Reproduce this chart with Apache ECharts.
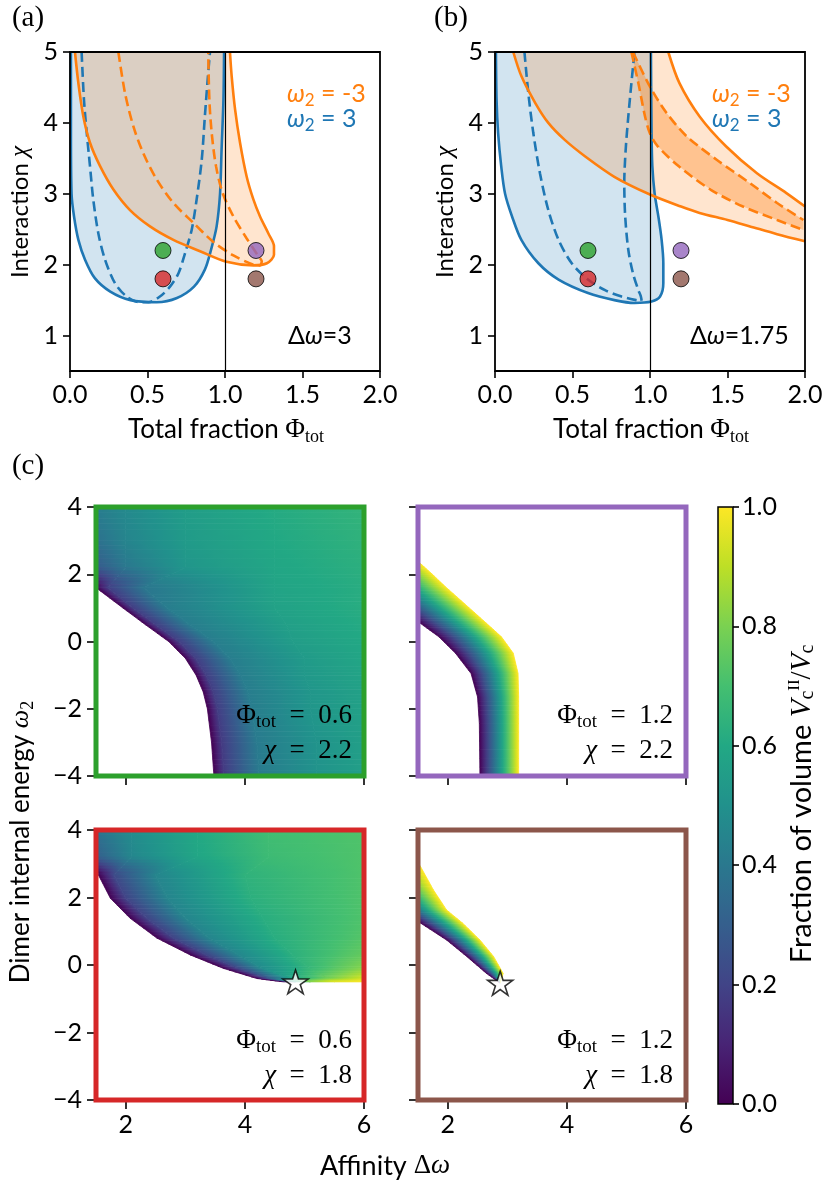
<!DOCTYPE html>
<html><head><meta charset="utf-8">
<script src="https://cdn.jsdelivr.net/npm/echarts@6/dist/echarts.min.js"></script>
<style>html,body{margin:0;padding:0;background:#fff}#c{width:830px;height:1192px}</style>
</head><body><div id="c"></div>
<script>
// ---------------- data: panel (a), Δω = 3 ----------------
const blueSolidA = [[0.006,5],[0.006,3.86],[0.01,3.0],[0.026,2.68],[0.054,2.35],[0.097,2.07],[0.16,1.81],[0.26,1.62],[0.39,1.50],[0.56,1.47],[0.69,1.53],[0.80,1.69],[0.87,1.93],[0.91,2.21],[0.946,2.54],[0.968,3.0],[0.978,3.62],[0.99,4.33],[0.994,5]];
const blueDashA = [[0.075,5],[0.09,4.33],[0.108,3.86],[0.129,3.39],[0.15,2.92],[0.183,2.44],[0.226,2.07],[0.29,1.74],[0.366,1.55],[0.45,1.47],[0.505,1.47],[0.58,1.55],[0.645,1.69],[0.70,1.88],[0.742,2.16],[0.785,2.49],[0.817,2.92],[0.85,3.48],[0.87,4.09],[0.89,4.66],[0.903,5]];
const orangeSolidA = [[0.032,5],[0.054,4.56],[0.086,4.09],[0.129,3.72],[0.194,3.39],[0.28,3.06],[0.387,2.77],[0.516,2.54],[0.667,2.35],[0.839,2.19],[1.01,2.04],[1.183,1.99],[1.27,2.02],[1.316,2.14],[1.316,2.26],[1.28,2.44],[1.226,2.68],[1.183,2.92],[1.14,3.24],[1.097,3.72],[1.065,4.19],[1.043,4.66],[1.032,5]];
const orangeDashA = [[0.312,5],[0.355,4.42],[0.409,3.95],[0.473,3.57],[0.56,3.2],[0.667,2.87],[0.796,2.59],[0.925,2.32],[1.054,2.13],[1.183,2.0],[1.226,1.99],[1.237,2.05],[1.215,2.12],[1.14,2.37],[1.054,2.68],[0.985,3.01],[0.942,3.39],[0.914,3.86],[0.899,4.33],[0.892,5]];
// ---------------- data: panel (b), Δω = 1.75 ----------------
const blueSolidB = [[0.006,5],[0.01,4.33],[0.02,3.86],[0.04,3.39],[0.065,3.0],[0.11,2.68],[0.17,2.35],[0.28,2.02],[0.41,1.79],[0.60,1.6],[0.77,1.5],[0.90,1.46],[1.01,1.48],[1.065,1.55],[1.086,1.74],[1.086,2.02],[1.075,2.35],[1.054,2.68],[1.03,3.0],[1.015,3.39],[1.01,3.86],[1.006,5]];
const blueDashB = [[0.19,5],[0.215,4.42],[0.247,3.86],[0.29,3.29],[0.344,2.77],[0.41,2.35],[0.495,2.02],[0.60,1.79],[0.71,1.64],[0.817,1.55],[0.91,1.50],[0.946,1.49],[0.94,1.56],[0.925,1.64],[0.89,1.88],[0.86,2.21],[0.84,2.68],[0.834,3.15],[0.843,3.62],[0.86,4.09],[0.88,4.56],[0.90,5]];
const orangeLowB = [[0.118,5],[0.17,4.66],[0.26,4.28],[0.344,4.0],[0.45,3.76],[0.58,3.53],[0.77,3.24],[1.0,2.99],[1.2,2.82],[1.32,2.73],[1.5,2.63],[1.645,2.54],[1.82,2.43],[2.0,2.33]];
const orangeHighB = [[1.118,5],[1.19,4.56],[1.32,4.09],[1.49,3.67],[1.69,3.29],[1.88,3.01],[2.0,2.82]];
const orangeDashOutB = [[0.89,5],[1.0,4.51],[1.107,4.14],[1.237,3.81],[1.43,3.48],[1.645,3.15],[1.82,2.87],[1.99,2.63]];
const orangeDashInB = [[0.88,5],[0.925,4.56],[0.968,4.09],[1.0,3.85],[1.05,3.67],[1.19,3.38],[1.39,3.06],[1.60,2.82],[1.82,2.63],[1.99,2.49]];
// state points
const dotPhi = [0.6, 0.6, 1.2, 1.2];
const dotChi = [2.2, 1.8, 2.2, 1.8];
const dotColors = ['#2ca02c', '#d62728', '#9467bd', '#8c564b'];
// tick labels
const phiTicks = [0, 0.5, 1, 1.5, 2];
const chiTicks = [1, 2, 3, 4, 5];
const dwTicks = [2, 4, 6];
const w2Ticks = [-4, -2, 0, 2, 4];
const cbTicks = [0, 0.2, 0.4, 0.6, 0.8, 1.0];
// ---------------- data: panel (c) maps, rows [ω2, [Δω stops], [fraction values]] ----------------
const tlRows = [
 [4.0, [1.5,2.0,3.0,4.5,6.0], [0.42,0.47,0.55,0.61,0.65]],
 [3.0, [1.5,2.0,3.0,4.5,6.0], [0.37,0.45,0.54,0.60,0.64]],
 [2.2, [1.5,2.0,3.0,4.5,6.0], [0.28,0.40,0.52,0.59,0.63]],
 [1.6, [1.5,1.7,2.3,4.5,6.0], [0.0,0.18,0.39,0.58,0.62]],
 [1.0, [1.95,2.12,2.7,4.5,6.0], [0,0.18,0.42,0.57,0.62]],
 [0.5, [2.33,2.5,3.08,4.7,6.0], [0,0.18,0.42,0.56,0.61]],
 [0.0, [2.72,2.89,3.47,4.8,6.0], [0,0.18,0.42,0.55,0.60]],
 [-0.5,[3.0,3.17,3.75,5.0,6.0], [0,0.18,0.42,0.54,0.59]],
 [-1.0,[3.18,3.35,3.93,5.0,6.0],[0,0.18,0.42,0.53,0.58]],
 [-1.5,[3.3,3.47,4.05,5.1,6.0],[0,0.18,0.42,0.52,0.57]],
 [-2.0,[3.37,3.54,4.12,5.1,6.0],[0,0.18,0.42,0.52,0.57]],
 [-3.0,[3.44,3.61,4.2,5.2,6.0],[0,0.17,0.41,0.51,0.56]],
 [-4.0,[3.48,3.65,4.24,5.2,6.0],[0,0.17,0.41,0.51,0.56]]
];
const trRows = [
 [2.6,[-0.07,1.37],[0,1]], [2.32,[0.15,1.54],[0,1]], [2.0,[0.40,1.74],[0,1]], [1.63,[0.69,1.96],[0,1]],
 [1.0,[1.18,2.36],[0,1]], [0.54,[1.54,2.65],[0,1]], [0.14,[1.85,2.90],[0,1]], [-0.35,[2.13,3.10],[0,1]],
 [-0.95,[2.39,3.18],[0,1]], [-1.65,[2.50,3.19],[0,1]], [-2.44,[2.53,3.19],[0,1]], [-4.0,[2.54,3.19],[0,1]]
];
const blRows = [
 [4.0,[1.5,2.1,3.2,4.4,6.0],[0.38,0.48,0.60,0.69,0.72]],
 [3.2,[1.5,2.1,3.2,4.4,6.0],[0.30,0.46,0.59,0.68,0.72]],
 [2.67,[1.54,1.8,2.5,4.0,6.0],[0,0.22,0.45,0.64,0.72]],
 [1.98,[1.74,2.0,2.7,4.1,6.0],[0,0.2,0.45,0.63,0.72]],
 [1.39,[2.07,2.35,3.0,4.3,6.0],[0,0.2,0.45,0.62,0.72]],
 [0.80,[2.52,2.8,3.4,4.5,6.0],[0,0.2,0.45,0.62,0.73]],
 [0.30,[3.08,3.35,3.9,4.8,6.0],[0,0.2,0.46,0.63,0.76]],
 [-0.10,[3.64,3.9,4.3,5.1,6.0],[0,0.22,0.48,0.66,0.82]],
 [-0.40,[4.2,4.45,4.8,5.4,6.0],[0,0.3,0.58,0.78,0.93]],
 [-0.50,[4.65,4.85,5.1,5.5,6.0],[0,0.6,0.82,0.96,1.0]]
];
const brRows = [
 [3.2,[-0.16,1.45],[0,1]], [2.91,[0.09,1.545],[0,1]], [2.22,[0.69,1.76],[0,1]], [1.63,[1.20,1.98],[0,1]],
 [1.24,[1.545,2.25],[0,1]], [0.74,[1.98,2.54],[0,1]], [0.25,[2.32,2.77],[0,1]], [-0.25,[2.65,2.93],[0,1]],
 [-0.54,[2.88,2.88],[0,1]]
];
const starBL = [4.85, -0.5];
const starBR = [2.88, -0.54];

// ---------------- colour map (viridis) ----------------
const viridis = ['#440154','#482475','#414487','#355f8d','#2a788e','#21918c','#22a884','#44bf70','#7ad151','#bddf26','#fde725'];
const vRgb = viridis.map(h => [parseInt(h.slice(1,3),16), parseInt(h.slice(3,5),16), parseInt(h.slice(5,7),16)]);
function cmap(v) {
  v = Math.max(0, Math.min(1, v));
  const f = v * (vRgb.length - 1);
  const i = Math.min(Math.floor(f), vRgb.length - 2);
  const t = f - i, a = vRgb[i], b = vRgb[i + 1];
  return 'rgb(' + [0,1,2].map(j => Math.round(a[j] + (b[j] - a[j]) * t)).join(',') + ')';
}
function nrm(v) { const l = Math.hypot(v[0], v[1]) || 1; return [v[0] / l, v[1] / l]; }
// smooth shading between two read rows (sub-steps only affect rendering)
function stripRenderer(rows) {
  const M = 6;
  return function (params, api) {
    const i = params.dataIndex, r0 = rows[i], r1 = rows[i + 1];
    const at = t => [r0[0] + (r1[0] - r0[0]) * t,
      r0[1].map((x, k) => x + (r1[1][k] - x) * t),
      r0[2].map((v, k) => v + (r1[2][k] - v) * t)];
    const children = [];
    for (let m = 0; m < M; m++) {
      const p = at(m / M), q = at((m + 1) / M);
      for (let k = 0; k < p[1].length - 1; k++) {
        const A = api.coord([p[1][k], p[0]]), B = api.coord([p[1][k + 1], p[0]]);
        const C = api.coord([q[1][k + 1], q[0]]), D = api.coord([q[1][k], q[0]]);
        const va = (p[2][k] + q[2][k]) / 2, vb = (p[2][k + 1] + q[2][k + 1]) / 2;
        const e1 = nrm([D[0] - A[0], D[1] - A[1]]), e2 = nrm([C[0] - B[0], C[1] - B[1]]);
        const d = nrm([e1[0] + e2[0], e1[1] + e2[1]]);
        let n = [d[1], -d[0]];
        const Am = [(A[0] + D[0]) / 2, (A[1] + D[1]) / 2], Bm = [(B[0] + C[0]) / 2, (B[1] + C[1]) / 2];
        let s = (Bm[0] - Am[0]) * n[0] + (Bm[1] - Am[1]) * n[1];
        if (s < 0) { n = [-n[0], -n[1]]; s = -s; }
        if (s < 0.5) s = 0.5;
        const stops = [];
        for (let j = 0; j <= 12; j++) { const t = j / 12; stops.push({ offset: t, color: cmap(va + (vb - va) * t) }); }
        const g = new echarts.graphic.LinearGradient(Am[0], Am[1], Am[0] + n[0] * s, Am[1] + n[1] * s, stops, true);
        children.push({ type: 'polygon', shape: { points: [A, B, C, D] }, style: { fill: g, stroke: g, lineWidth: 0.8 } });
      }
    }
    return { type: 'group', children };
  };
}

const BLUE = '#1f77b4', ORANGE = '#ff7f0e';
const SANS = 'Lato', SERIF = 'Liberation Serif';
const tickStyle = { color: '#000', width: 1.6 };
const lab = { color: '#000', fontFamily: SANS, fontSize: 25 };

function polySeries(g, pts, fill) {
  return { type: 'custom', xAxisIndex: g, yAxisIndex: g, z: 1, silent: true, data: [pts[0]],
    renderItem: (p, api) => ({ type: 'polygon', shape: { points: pts.map(q => api.coord(q)) }, style: { fill } }) };
}
function lineSeries(g, pts, color, dashed, extra) {
  return Object.assign({ type: 'line', xAxisIndex: g, yAxisIndex: g, data: pts, symbol: 'none', smooth: 0.3, z: 3, silent: true,
    lineStyle: { color, width: 2.6, type: dashed ? [10, 5] : 'solid' } }, extra || {});
}
const vline = { markLine: { silent: true, symbol: ['none', 'none'], label: { show: false },
  lineStyle: { color: '#000', width: 1.2, type: 'solid' }, data: [{ xAxis: 1 }] } };
function dotSeries(g) {
  return { type: 'scatter', xAxisIndex: g, yAxisIndex: g, z: 5, symbolSize: 16, silent: true,
    itemStyle: { borderColor: '#000', borderWidth: 1 },
    data: dotPhi.map((x, i) => ({ value: [x, dotChi[i]], itemStyle: { color: dotColors[i] } })) };
}
function heatSeries(g, rows) {
  return { type: 'custom', xAxisIndex: g, yAxisIndex: g, clip: true, z: 1, silent: true,
    data: rows.slice(0, -1).map(r => [r[1][0], r[0]]), renderItem: stripRenderer(rows) };
}
const starPath = 'path://M50,0 L61.2,34.5 L97.6,34.5 L68.2,55.9 L79.4,90.5 L50,69.1 L20.6,90.5 L31.8,55.9 L2.4,34.5 L38.8,34.5 Z';
function starSeries(g, pt) {
  return { type: 'scatter', xAxisIndex: g, yAxisIndex: g, z: 6, silent: true, symbol: starPath, symbolSize: 25, symbolKeepAspect: true,
    itemStyle: { color: '#fff', borderColor: '#000', borderWidth: 1.6 }, data: [pt] };
}

const noLine = { show: false, onZero: false };
function axAx(g) { return { gridIndex: g, type: 'value', min: 0, max: 2, interval: 0.5, axisLine: noLine,
  axisTick: { length: 7, lineStyle: tickStyle }, axisLabel: Object.assign({ margin: 11, customValues: phiTicks, formatter: v => v.toFixed(1) }, lab), splitLine: { show: false } }; }
function axAy(g) { return { gridIndex: g, type: 'value', min: 0.5, max: 5, axisLine: noLine,
  axisTick: { length: 7, customValues: chiTicks, lineStyle: tickStyle }, axisLabel: Object.assign({ margin: 12, customValues: chiTicks }, lab), splitLine: { show: false } }; }
function axCx(g, show) { return { gridIndex: g, type: 'value', min: 1.5, max: 6, axisLine: noLine,
  axisTick: { length: 9, customValues: dwTicks, lineStyle: tickStyle }, axisLabel: Object.assign({ show, margin: 12, customValues: dwTicks }, lab), splitLine: { show: false } }; }
function axCy(g, show) { return { gridIndex: g, type: 'value', min: -4, max: 4, interval: 2, axisLine: noLine,
  axisTick: { length: 9, lineStyle: tickStyle }, axisLabel: Object.assign({ show, margin: 14, customValues: w2Ticks, formatter: v => (v < 0 ? '\u2212' + Math.abs(v) : '' + v) }, lab), splitLine: { show: false } }; }

function grid(left, top, width, height, color, bw) {
  return { left, top, width, height, show: true, z: 10, borderColor: color, borderWidth: bw, backgroundColor: 'rgba(0,0,0,0)' };
}

function txt(x, y, text, rich, align, rot) {
  return { type: 'text', x, y, rotation: rot || 0, z: 100, silent: true, style: { text, rich, align: align || 'left', verticalAlign: 'middle' } };
}
function mathRich(color, size) {
  return {
    t: { fontFamily: SANS, fontSize: size, fill: color, lineHeight: 30 },
    w: { fontFamily: SANS, fontStyle: 'italic', fontSize: size, fill: color, lineHeight: 30 },
    s: { fontFamily: SANS, fontSize: Math.round(size * 0.68), fill: color, verticalAlign: 'bottom', lineHeight: 16 }
  };
}
function titleRich(size) {
  return {
    t: { fontFamily: SANS, fontSize: size, fill: '#000', lineHeight: 32 },
    f: { fontFamily: SERIF, fontSize: size + 1, fill: '#000', lineHeight: 32 },
    c: { fontFamily: SERIF, fontStyle: 'italic', fontSize: size + 1, fill: '#000', lineHeight: 32 },
    s: { fontFamily: SERIF, fontSize: Math.round(size * 0.7), fill: '#000', verticalAlign: 'bottom', lineHeight: 17 },
    p: { fontFamily: SERIF, fontSize: Math.round(size * 0.6), fill: '#000', verticalAlign: 'top', lineHeight: 14 },
    v: { fontFamily: SERIF, fontStyle: 'italic', fontSize: size, fill: '#000', lineHeight: 32 },
    w: { fontFamily: SERIF, fontStyle: 'italic', fontSize: size, fill: '#000', lineHeight: 32 },
    d: { fontFamily: SERIF, fontSize: size, fill: '#000', lineHeight: 32 }
  };
}
const panRich = { t: { fontFamily: SERIF, fontSize: 29, fill: '#000' } };
const mapRich = {
  f: { fontFamily: SERIF, fontSize: 27, fill: '#000', lineHeight: 32 },
  s: { fontFamily: SERIF, fontSize: 19, fill: '#000', verticalAlign: 'bottom', lineHeight: 17 },
  e: { fontFamily: SERIF, fontSize: 27, fill: '#000', lineHeight: 32 },
  c: { fontFamily: SERIF, fontStyle: 'italic', fontSize: 27, fill: '#000', lineHeight: 32 }
};
function mapLabel(xr, yTop, phi, chi) {
  return [txt(xr, yTop, '{f|Φ}{s|tot}{e|\u2002=\u2002' + phi + '}', mapRich, 'right'),
          txt(xr, yTop + 35, '{c|χ}{e|\u2002=\u2002' + chi + '}', mapRich, 'right')];
}

const option = {
  animation: false,
  backgroundColor: '#fff',
  grid: [
    grid(70, 52, 310, 319, '#000', 1.8),
    grid(495, 52, 310, 319, '#000', 1.8),
    grid(96, 507, 268, 269, '#2ca02c', 5),
    grid(418, 507, 268, 269, '#9467bd', 5),
    grid(96, 830, 268, 270, '#d62728', 5),
    grid(418, 830, 268, 270, '#8c564b', 5),
    grid(718, 507, 15, 597, '#000', 1.5)
  ],
  xAxis: [axAx(0), axAx(1), axCx(2, false), axCx(3, false), axCx(4, true), axCx(5, true),
    { gridIndex: 6, type: 'value', min: 0, max: 1, show: false }],
  yAxis: [axAy(0), axAy(1), axCy(2, true), axCy(3, false), axCy(4, true), axCy(5, false),
    { gridIndex: 6, type: 'value', position: 'right', min: 0, max: 1, interval: 0.2, axisLine: noLine,
      axisTick: { length: 6, lineStyle: tickStyle }, axisLabel: Object.assign({ margin: 9, customValues: cbTicks, formatter: v => v.toFixed(1) }, lab), splitLine: { show: false } }],
  series: [
    // panel (a)
    polySeries(0, blueSolidA, 'rgba(31,119,180,0.2)'),
    polySeries(0, orangeSolidA, 'rgba(255,127,14,0.2)'),
    lineSeries(0, blueSolidA, BLUE, false, vline),
    lineSeries(0, blueDashA, BLUE, true),
    lineSeries(0, orangeSolidA, ORANGE, false),
    lineSeries(0, orangeDashA, ORANGE, true),
    dotSeries(0),
    // panel (b)
    polySeries(1, blueSolidB, 'rgba(31,119,180,0.2)'),
    polySeries(1, orangeLowB.concat(orangeHighB.slice().reverse()), 'rgba(255,127,14,0.2)'),
    polySeries(1, orangeDashOutB.concat(orangeDashInB.slice().reverse()), 'rgba(255,127,14,0.33)'),
    lineSeries(1, blueSolidB, BLUE, false, vline),
    lineSeries(1, blueDashB, BLUE, true),
    lineSeries(1, orangeLowB, ORANGE, false),
    lineSeries(1, orangeHighB, ORANGE, false),
    lineSeries(1, orangeDashOutB, ORANGE, true),
    lineSeries(1, orangeDashInB, ORANGE, true),
    dotSeries(1),
    // panel (c)
    heatSeries(2, tlRows),
    heatSeries(3, trRows),
    heatSeries(4, blRows),
    heatSeries(5, brRows),
    starSeries(4, starBL),
    starSeries(5, starBR),
    // colour bar
    { type: 'custom', xAxisIndex: 6, yAxisIndex: 6, silent: true, z: 1, data: [[0, 0]],
      renderItem: (p, api) => {
        const a = api.coord([0, 0]), b = api.coord([1, 1]);
        return { type: 'rect', shape: { x: a[0], y: b[1], width: b[0] - a[0], height: a[1] - b[1] },
          style: { fill: new echarts.graphic.LinearGradient(0, 1, 0, 0, viridis.map((c, i) => ({ offset: i / (viridis.length - 1), color: c }))) } };
      } }
  ],
  graphic: { elements: [
    txt(28, 18, '{t|(a)}', panRich, 'center'),
    txt(451, 18, '{t|(b)}', panRich, 'center'),
    txt(28, 466, '{t|(c)}', panRich, 'center'),
    txt(287, 94, '{w|ω}{s|2}{t| = -3}', mathRich(ORANGE, 25)),
    txt(287, 119, '{w|ω}{s|2}{t| = 3}', mathRich(BLUE, 25)),
    txt(712, 94, '{w|ω}{s|2}{t| = -3}', mathRich(ORANGE, 25)),
    txt(712, 119, '{w|ω}{s|2}{t| = 3}', mathRich(BLUE, 25)),
    txt(288, 336, '{t|Δ}{w|ω}{t|=3}', mathRich('#000', 25)),
    txt(690, 336, '{t|Δ}{w|ω}{t|=1.75}', mathRich('#000', 25)),
    txt(226, 430, '{t|Total fraction }{f|Φ}{s|tot}', titleRich(26), 'center'),
    txt(651, 430, '{t|Total fraction }{f|Φ}{s|tot}', titleRich(26), 'center'),
    txt(20, 212, '{t|Interaction }{c|χ}', titleRich(24), 'center', Math.PI / 2),
    txt(445, 212, '{t|Interaction }{c|χ}', titleRich(24), 'center', Math.PI / 2),
    txt(21, 842, '{t|Dimer internal energy }{w|ω}{s|2}', titleRich(26), 'center', Math.PI / 2),
    txt(385, 1166, '{t|Affinity }{d|Δ}{w|ω}', titleRich(27), 'center'),
    txt(802, 804, '{t|Fraction of volume }{v|V}{s|c}{p|II}{d|/}{v|V}{s|c}', titleRich(29), 'center', Math.PI / 2),
    ...mapLabel(352, 716, '0.6', '2.2'),
    ...mapLabel(673, 716, '1.2', '2.2'),
    ...mapLabel(352, 1041, '0.6', '1.8'),
    ...mapLabel(673, 1041, '1.2', '1.8')
  ] }
};
echarts.init(document.getElementById('c')).setOption(option);
</script></body></html>
